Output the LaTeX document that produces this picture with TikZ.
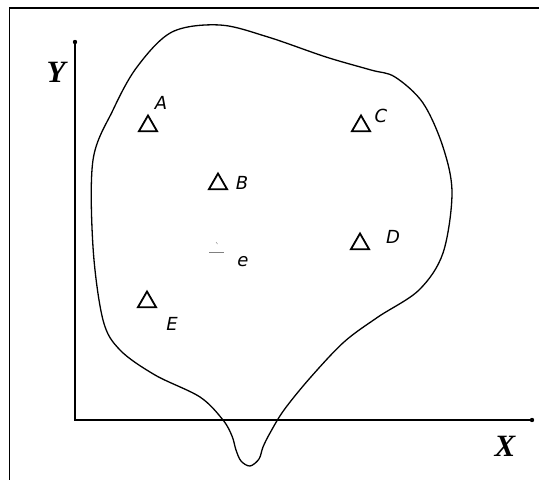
\documentclass[tikz,border=0pt]{standalone}
\usepackage{fontspec}
\setmainfont{Liberation Serif}
\setsansfont{DejaVu Sans}
\usetikzlibrary{shapes.geometric}
\begin{document}
\begin{tikzpicture}[x=1pt,y=-1pt,
  tri/.style={draw,line width=1.8pt,regular polygon,regular polygon sides=3,minimum size=21pt,inner sep=0pt},
  ptlabel/.style={font=\sffamily\itshape\fontsize{18}{18}\selectfont,inner sep=0pt},
  axlabel/.style={font=\rmfamily\itshape\bfseries\fontsize{31}{31}\selectfont,inner sep=0pt},
  axis/.style={line width=1.2pt},
  outline/.style={line width=1.3pt}]
\useasboundingbox (0,0) rectangle (539,480);
% frame
\draw[line width=1.5pt] (9.5,490) -- (9.5,8) -- (550,8);
% axes
\coordinate (O) at (75,420);
\coordinate (Ytop) at (75,42);
\coordinate (Xend) at (532,420);
\draw[axis] (Ytop) -- (O) -- (Xend);
\fill (Ytop) circle (2.2pt);
\fill (Xend) circle (2.2pt);
\node[axlabel] (Ylab) at (56,72) {Y};
\node[axlabel] (Xlab) at (505,446) {X};
% outline
\draw[outline] plot[smooth cycle, tension=0.55] coordinates {
 (220,25) (268,37) (326,57) (371,70) (395,77) (423,103) (443,147) (452,193)
 (443,253) (419,290) (378,317) (344,342) (310,378) (284,410) (270,433) (263,447)
 (259,459) (250,466) (241,461) (236,450) (232,436) (223,420) (200,397) (155,375)
 (120,350) (103,320) (93,247) (93,160) (113,110) (137,67) (172,32)};
% stations
\node[tri] (A) at (148,126) {};
\node[tri] (B) at (218,184) {};
\node[tri] (C) at (361,126) {};
\node[tri] (D) at (360,244) {};
\node[tri] (E) at (147,302) {};
\node[ptlabel] (Alab) at (161,103) {A};
\node[ptlabel] (Blab) at (242,183) {B};
\node[ptlabel] (Clab) at (381,116) {C};
\node[ptlabel] (Dlab) at (393,237) {D};
\node[ptlabel] (Elab) at (172,324) {E};
% epicentre mark
\coordinate (e1) at (209,252);
\coordinate (e2) at (224,252);
\draw[line width=0.5pt,gray] (e1) -- (e2);
\draw[line width=0.4pt,gray] (216,242) -- (217.5,244);
\node[ptlabel] (elab) at (243,262) {e};
\end{tikzpicture}
\end{document}
